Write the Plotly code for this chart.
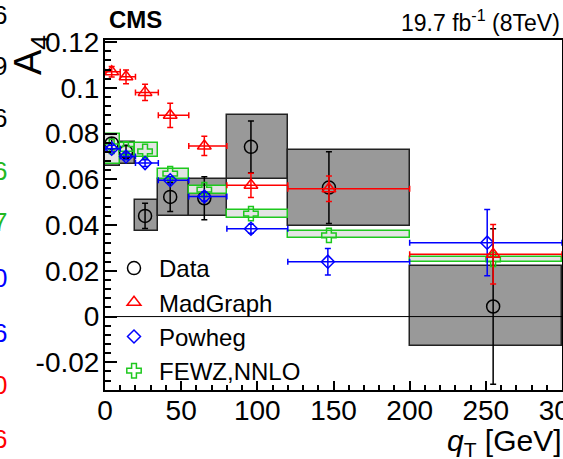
import plotly.graph_objects as go

# ---- data ----
bin_lo = [0, 10, 20, 35, 55, 80, 120, 200]
bin_hi = [10, 20, 35, 55, 80, 120, 200, 300]
x_mean = [4.4, 13.8, 26.3, 42.8, 65.2, 95.8, 147.0, 254.8]
x_powheg = [4.4, 13.8, 26.3, 42.8, 65.2, 95.8, 146.3, 250.9]

data_A4 = [0.0757, 0.0720, 0.0440, 0.0523, 0.0517, 0.0742, 0.0564, 0.0044]
data_stat = [0.0025, 0.0028, 0.0055, 0.0064, 0.0094, 0.0113, 0.0157, 0.0340]
data_box_lo = [0.0660, 0.0668, 0.0372, 0.0438, 0.0438, 0.0600, 0.0396, -0.0127]
data_box_hi = [0.0795, 0.0765, 0.0508, 0.0600, 0.0603, 0.0883, 0.0730, 0.0219]

mg_A4 = [0.1070, 0.1048, 0.0980, 0.0880, 0.0746, 0.0574, 0.0559, 0.0272]
mg_err = [0.0023, 0.0030, 0.0036, 0.0053, 0.0042, 0.0053, 0.0056, 0.0130]

pw_A4 = [0.0734, 0.0700, 0.0671, 0.0596, 0.0525, 0.0384, 0.0240, 0.0323]
pw_err = [0.0015, 0.0015, 0.0015, 0.0015, 0.0020, 0.0020, 0.0058, 0.0145]

fewz_A4 = [0.0744, 0.0733, 0.0722, 0.0625, 0.0555, 0.0450, 0.0355, 0.0250]
fewz_lo = [0.0665, 0.0705, 0.0698, 0.0600, 0.0537, 0.0432, 0.0343, 0.0238]
fewz_hi = [0.0797, 0.0759, 0.0759, 0.0647, 0.0569, 0.0467, 0.0372, 0.0260]

x_ticks = [0, 50, 100, 150, 200, 250, 300]
y_ticks = [-0.02, 0, 0.02, 0.04, 0.06, 0.08, 0.1, 0.12]
y_ticktext = ["-0.02", "0", "0.02", "0.04", "0.06", "0.08", "0.1", "0.12"]

side_digits = ["6", "9", "6", "6", "7", "0", "6", "0", "6"]
side_colors = ["black", "black", "black", "#22b822", "#22b822", "blue", "blue", "red", "red"]
side_y = [15, 66, 118, 171, 222, 278, 333, 385, 439]

# ---- derived ----
centers = [(a + b) / 2 for a, b in zip(bin_lo, bin_hi)]
widths = [b - a for a, b in zip(bin_lo, bin_hi)]
xerr_p = [b - x for b, x in zip(bin_hi, x_mean)]
xerr_m = [x - a for a, x in zip(bin_lo, x_mean)]
xerr_pw_p = [b - x for b, x in zip(bin_hi, x_powheg)]
xerr_pw_m = [x - a for a, x in zip(bin_lo, x_powheg)]

RED = "#ff0000"
BLUE = "#0000ff"
GREEN = "#1ec81e"
FONT = "Liberation Sans, Arial, Helvetica, sans-serif"

fig = go.Figure()

# data total-uncertainty boxes
fig.add_trace(go.Bar(
    x=centers, y=[h - l for h, l in zip(data_box_hi, data_box_lo)], base=data_box_lo,
    width=widths, marker=dict(color="#999999", line=dict(color="#222222", width=1.5)),
    showlegend=False, hoverinfo="skip"))

# FEWZ boxes
fig.add_trace(go.Bar(
    x=centers, y=[h - l for h, l in zip(fewz_hi, fewz_lo)], base=fewz_lo,
    width=widths, marker=dict(color="#e4e4e4", line=dict(color=GREEN, width=1.5)),
    showlegend=False, hoverinfo="skip"))

# Data points
fig.add_trace(go.Scatter(
    x=x_mean, y=data_A4, mode="markers", name="Data", legendrank=1,
    marker=dict(symbol="circle-open", size=13, color="black", line=dict(width=1.5)),
    error_y=dict(type="data", array=data_stat, color="black", thickness=1.5, width=3)))

# FEWZ points
fig.add_trace(go.Scatter(
    x=x_mean, y=fewz_A4, mode="markers", name="FEWZ,NNLO", legendrank=4,
    marker=dict(symbol="cross-open", size=12, color=GREEN, line=dict(width=1.5))))

# Powheg
fig.add_trace(go.Scatter(
    x=x_powheg, y=pw_A4, mode="markers", name="Powheg", legendrank=3,
    marker=dict(symbol="diamond-open", size=10, color=BLUE, line=dict(width=1.5)),
    error_y=dict(type="data", array=pw_err, color=BLUE, thickness=1.5, width=3),
    error_x=dict(type="data", array=xerr_pw_p, arrayminus=xerr_pw_m, color=BLUE, thickness=1.5, width=3)))

# MadGraph
fig.add_trace(go.Scatter(
    x=x_mean, y=mg_A4, mode="markers", name="MadGraph", legendrank=2,
    marker=dict(symbol="triangle-up-open", size=12, color=RED, line=dict(width=1.5)),
    error_y=dict(type="data", array=mg_err, color=RED, thickness=1.5, width=3),
    error_x=dict(type="data", array=xerr_p, arrayminus=xerr_m, color=RED, thickness=1.5, width=3)))

# zero line
fig.add_shape(type="line", xref="paper", x0=0, x1=1, yref="y", y0=0, y1=0,
              line=dict(color="black", width=1), layer="above")

W, H = 563, 459
L, R, T, B = 105, 1, 40, 69
pw_ = W - L - R
ph_ = H - T - B

def px2x(px):
    return (px - L) / pw_

def py2y(py):
    return (H - B - py) / ph_

annotations = [
    dict(text="<b>CMS</b>", x=px2x(107), y=py2y(20), xref="paper", yref="paper",
         xanchor="left", yanchor="middle", showarrow=False, font=dict(size=24, family=FONT, color="black")),
    dict(text="19.7 fb<sup>-1</sup> (8TeV)", x=px2x(562), y=py2y(21), xref="paper", yref="paper",
         xanchor="right", yanchor="middle", showarrow=False, font=dict(size=23, family=FONT, color="black")),
    dict(text="A<sub>4</sub>", x=px2x(31), y=py2y(33), xref="paper", yref="paper", textangle=-90,
         xanchor="center", yanchor="top", showarrow=False, font=dict(size=38, family=FONT, color="black")),
    dict(text="<i>q</i><sub>T</sub> [GeV]", x=px2x(564), y=py2y(442), xref="paper", yref="paper",
         xanchor="right", yanchor="middle", showarrow=False, font=dict(size=30, family=FONT, color="black")),
]
for d, c, yy in zip(side_digits, side_colors, side_y):
    annotations.append(dict(text=d, x=px2x(9), y=py2y(yy), xref="paper", yref="paper",
                            xanchor="right", yanchor="middle", showarrow=False,
                            font=dict(size=26, family=FONT, color=c)))

fig.update_layout(
    width=W, height=H, margin=dict(l=L, r=R, t=T, b=B, pad=0, autoexpand=False),
    paper_bgcolor="white", plot_bgcolor="white",
    barmode="overlay", bargap=0,
    font=dict(family=FONT, color="black"),
    annotations=annotations,
    legend=dict(x=px2x(109), y=py2y(246), xanchor="left", yanchor="top",
                bgcolor="rgba(0,0,0,0)", font=dict(size=24, family=FONT),
                itemwidth=40, tracegroupgap=0),
    xaxis=dict(range=[0, 300], tickvals=x_ticks, ticks="inside", ticklen=9, tickwidth=1.5,
               tickcolor="black", showline=True, linecolor="black", linewidth=2, mirror=True,
               showgrid=False, zeroline=False, tickfont=dict(size=28, family=FONT),
               ticklabeloverflow="allow", automargin=False, ticklabelstandoff=-6,
               minor=dict(dtick=10, ticks="inside", ticklen=5, tickwidth=1.5, tickcolor="black", showgrid=False)),
    yaxis=dict(range=[-0.0321, 0.1209], tickvals=y_ticks, ticktext=y_ticktext, ticks="inside",
               ticklen=12, tickwidth=1.5, tickcolor="black", showline=True, linecolor="black",
               linewidth=2, mirror=True, showgrid=False, zeroline=False, automargin=False,
               ticklabelstandoff=-2,
               tickfont=dict(size=28, family=FONT),
               minor=dict(dtick=0.004, tick0=0, ticks="inside", ticklen=6, tickwidth=1.5,
                          tickcolor="black", showgrid=False)),
)

fig.write_html("out.html")
